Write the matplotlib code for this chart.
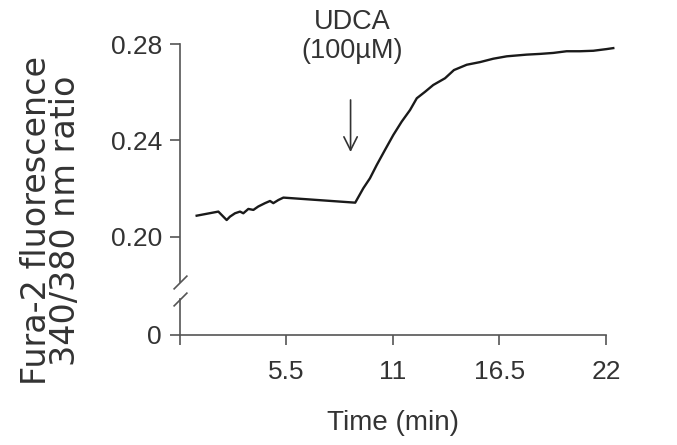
import matplotlib
matplotlib.use('Agg')
import matplotlib.pyplot as plt

plt.rcParams['font.family'] = ['Liberation Sans', 'DejaVu Sans']

# trace: time (min) vs 340/380 ratio
time_min = [0.86, 1.98, 2.41, 2.58, 2.84, 3.10, 3.27, 3.53, 3.79, 4.04, 4.39, 4.65,
            4.82, 5.08, 5.34, 9.05, 9.47, 9.81, 10.16, 10.59, 11.02, 11.45, 11.88,
            12.23, 12.66, 13.08, 13.69, 14.15, 14.81, 15.50, 16.18, 16.88, 17.91,
            18.60, 19.28, 19.97, 20.66, 21.35, 22.04, 22.38]
ratio = [0.2088, 0.2105, 0.2070, 0.2084, 0.2098, 0.2105, 0.2098, 0.2116, 0.2112,
         0.2126, 0.2140, 0.2149, 0.2140, 0.2153, 0.2163, 0.2142, 0.2202, 0.2243,
         0.2298, 0.2361, 0.2423, 0.2478, 0.2526, 0.2575, 0.2602, 0.2630, 0.2658,
         0.2692, 0.2714, 0.2725, 0.2739, 0.2749, 0.2756, 0.2759, 0.2763, 0.2770,
         0.2770, 0.2772, 0.2779, 0.2783]

x_ticks = [0, 5.5, 11, 16.5, 22]
x_labels = ['', '5.5', '11', '16.5', '22']
y_ticks = [0.20, 0.24, 0.28]
y_labels = ['0.20', '0.24', '0.28']
udca_time = 8.81

TXT = '#333333'
AX = '#555555'

fig = plt.figure(figsize=(6.77, 4.45), dpi=100)
ax_top = fig.add_axes([0.2659, 0.3663, 0.6434, 0.5348])
ax_bot = fig.add_axes([0.2659, 0.2472, 0.6434, 0.0809])

ax_top.plot(time_min, ratio, color='#1a1a1a', lw=1.7, clip_on=False)
ax_top.set_xlim(0, 22.5)
ax_top.set_ylim(0.1813, 0.28)
for s in ['top', 'right', 'bottom']:
    ax_top.spines[s].set_visible(False)
ax_top.spines['left'].set_color(AX)
ax_top.spines['left'].set_linewidth(1.2)
ax_top.set_xticks([])
ax_top.set_yticks(y_ticks)
ax_top.set_yticklabels(y_labels)
ax_top.tick_params(axis='y', direction='out', length=7, width=1.2, color=AX,
                   labelsize=19, labelcolor=TXT, pad=6)

ax_bot.set_xlim(0, 22.5)
ax_bot.set_ylim(0, 1)
for s in ['top', 'right']:
    ax_bot.spines[s].set_visible(False)
for s in ['left', 'bottom']:
    ax_bot.spines[s].set_color(AX)
    ax_bot.spines[s].set_linewidth(1.2)
ax_bot.spines['bottom'].set_bounds(0, 22)
ax_bot.set_xticks(x_ticks)
ax_bot.set_xticklabels(x_labels)
ax_bot.set_yticks([0])
ax_bot.set_yticklabels(['0'])
ax_bot.tick_params(direction='out', length=7, width=1.2, color=AX,
                   labelsize=19, labelcolor=TXT, pad=6)
ax_bot.tick_params(axis='x', pad=11)

# axis break marks
brk = dict(marker=[(-1, -1), (1, 1)], markersize=10, linestyle='none',
           color=AX, mec=AX, mew=1.2, clip_on=False)
ax_top.plot([0], [0], transform=ax_top.transAxes, **brk)
ax_bot.plot([0], [1], transform=ax_bot.transAxes, **brk)

# UDCA addition
ax_top.annotate('', xy=(udca_time, 0.2352), xytext=(udca_time, 0.2568),
                arrowprops=dict(arrowstyle='->', color='#333333', lw=1.2,
                                mutation_scale=24, shrinkA=0, shrinkB=0))
ax_top.text(udca_time + 0.1, 0.2945, 'UDCA\n(100µM)', ha='center', va='top',
            fontsize=19.5, color=TXT, linespacing=1.15)

fig.text(393 / 677, 0.034, 'Time (min)', ha='center', va='baseline',
         fontsize=20, color=TXT)
fig.text(51 / 677, 0.505, 'Fura-2 fluorescence\n340/380 nm ratio', rotation=90,
         ha='center', va='center', multialignment='center', fontsize=24,
         family=['DejaVu Sans'], color=TXT, linespacing=0.82)

fig.savefig('out.png', dpi=100)
